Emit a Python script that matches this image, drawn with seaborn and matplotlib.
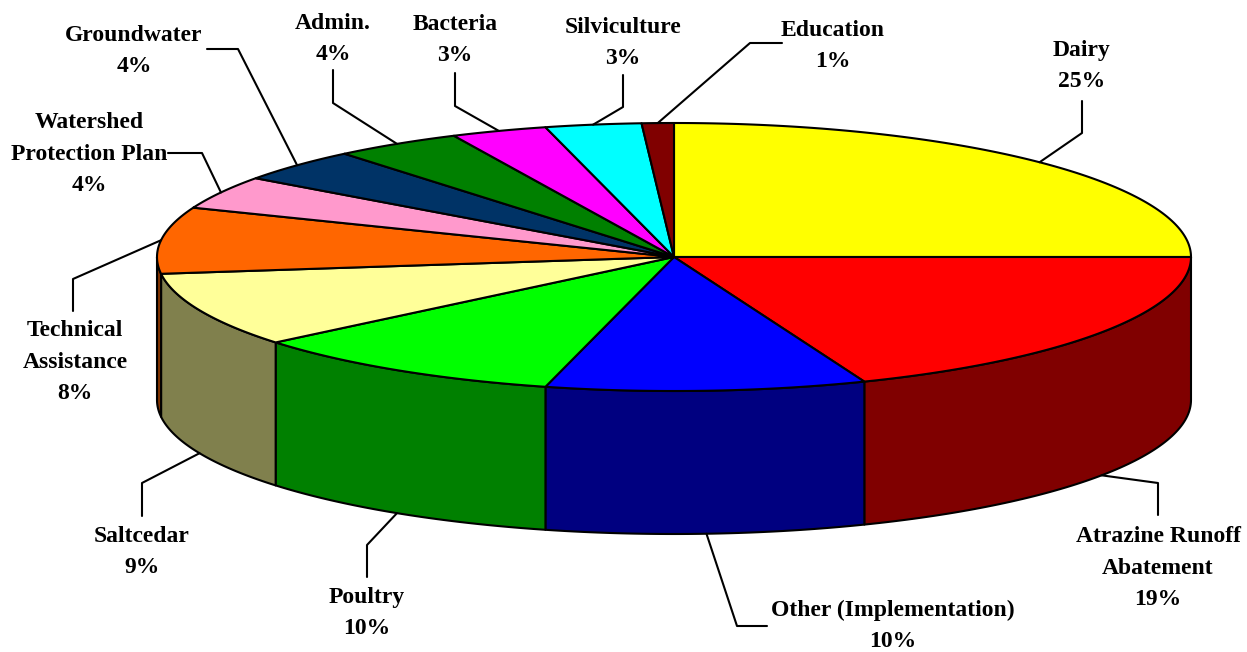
import numpy as np
import matplotlib
matplotlib.use("Agg")
import matplotlib.pyplot as plt
from matplotlib.patches import Polygon
import seaborn as sns

# slice data (clockwise from 12 o'clock)
categories = ['Dairy', 'Atrazine Runoff\nAbatement', 'Other (Implementation)', 'Poultry',
              'Saltcedar', 'Technical\nAssistance', 'Watershed\nProtection Plan', 'Groundwater',
              'Admin.', 'Bacteria', 'Silviculture', 'Education']
shares = [25, 19, 10, 10, 9, 8, 4, 4, 4, 3, 3, 1]
top_colors = ['#FFFF00', '#FF0000', '#0000FF', '#00FF00', '#FFFF99', '#FF6600',
              '#FF99CC', '#003366', '#008000', '#FF00FF', '#00FFFF', '#800000']

# label layout (pixel coords): text centre, leader start, leader elbow
label_pos = [(1082, 66), (1158, 568), (893, 626), (367, 613), (142, 552), (75, 362),
             (89, 154), (134, 51), (333, 39), (455, 40), (623, 43), (833, 46)]
leader_start = [(1082, 101), (1158, 515), (767, 626), (367, 577), (142, 516), (73, 311),
                (168, 153), (207, 49), (333, 70), (455, 73), (623, 75), (782, 43)]
leader_elbow = [(1082, 133), (1158, 483), (737, 626), (367, 545), (142, 483), (73, 279),
                (202, 153), (238, 49), (333, 103), (455, 106), (623, 107), (750, 43)]

sns.set_style("white")
plt.rcParams['font.family'] = ['Liberation Serif', 'DejaVu Serif']
plt.rcParams['text.color'] = 'black'

# pie geometry
cx, cy = 674, 257
rx, ry = 517, 134
depth = 143


def ell(t, dz=0.0):
    t = np.radians(t)
    return cx + rx * np.cos(t), cy - ry * np.sin(t) + dz


fig = plt.figure(figsize=(12.47, 6.52), dpi=100)
ax = fig.add_axes([0, 0, 1, 1])
ax.set_xlim(0, 1247)
ax.set_ylim(652, 0)
ax.axis('off')

cum = np.concatenate([[0], np.cumsum(shares)])
t_start = 90 - 3.6 * cum[:-1]
t_end = 90 - 3.6 * cum[1:]

# sides (front half only: angles between -180 and 0)
for i in range(len(shares)):
    a = min(t_start[i], 0)
    b = max(t_end[i], -180)
    if a <= b:
        continue
    ts = np.linspace(a, b, 80)
    xt, yt = ell(ts)
    xb, yb = ell(ts[::-1], depth)
    pts = np.column_stack([np.concatenate([xt, xb]), np.concatenate([yt, yb])])
    rgb = np.array(matplotlib.colors.to_rgb(top_colors[i])) * 0.5
    ax.add_patch(Polygon(pts, closed=True, facecolor=rgb, edgecolor='black',
                         linewidth=1.5, joinstyle='round', zorder=2))

# tops
for i in range(len(shares)):
    n = max(int(abs(t_start[i] - t_end[i])), 2) * 2
    ts = np.linspace(t_start[i], t_end[i], n)
    xt, yt = ell(ts)
    pts = np.column_stack([np.concatenate([[cx], xt]), np.concatenate([[cy], yt])])
    ax.add_patch(Polygon(pts, closed=True, facecolor=top_colors[i], edgecolor='black',
                         linewidth=1.5, joinstyle='round', zorder=3))

# labels and leader lines
for i, name in enumerate(categories):
    mid = (t_start[i] + t_end[i]) / 2
    front = np.sin(np.radians(mid)) < 0
    axx, ayy = ell(mid, depth if front else 0)
    sx, sy = leader_start[i]
    ex, ey = leader_elbow[i]
    ax.plot([sx, ex, axx], [sy, ey, ayy], color='black', linewidth=1.5, zorder=4)
    ax.text(label_pos[i][0], label_pos[i][1], f"{name}\n{shares[i]}%", ha='center',
            va='center', fontsize=17, fontweight='bold', linespacing=1.65,
            color='black', zorder=5)

fig.savefig('out.png', dpi=100)
